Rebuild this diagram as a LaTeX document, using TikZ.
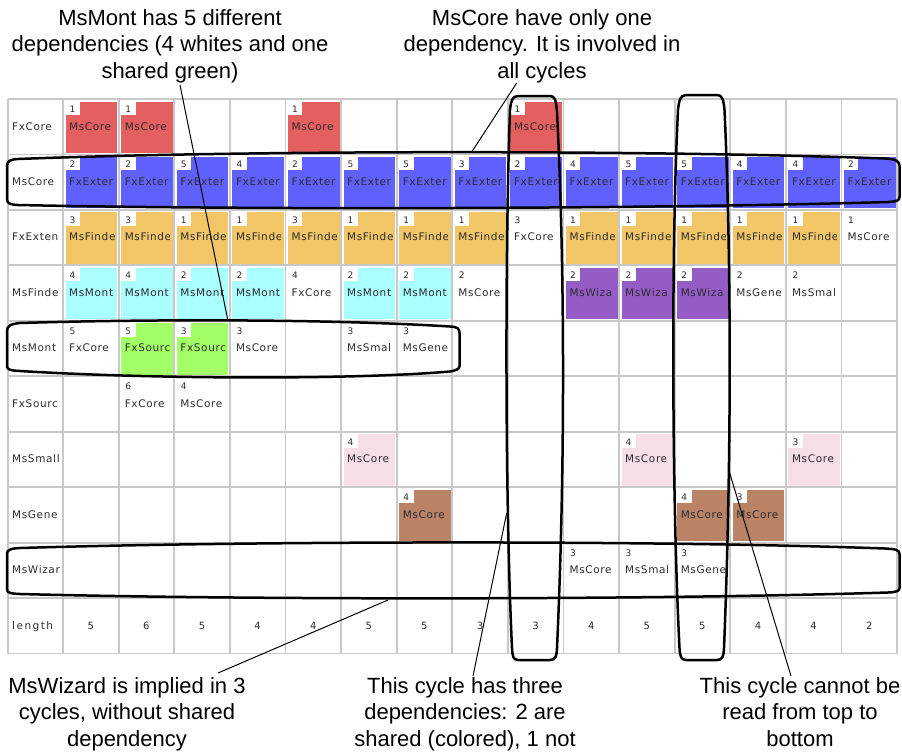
\documentclass[tikz,border=0pt]{standalone}
\usepackage{fontspec}
\newfontfamily\af{Liberation Sans}
\newfontfamily\cf[LetterSpace=6]{DejaVu Sans}
\newfontfamily\lf[LetterSpace=14]{DejaVu Sans}
\definecolor{cred}{RGB}{228,95,95}
\definecolor{cblue}{RGB}{96,96,255}
\definecolor{corange}{RGB}{242,198,102}
\definecolor{ccyan}{RGB}{170,255,255}
\definecolor{cgreen}{RGB}{163,255,102}
\definecolor{cpurple}{RGB}{150,92,198}
\definecolor{cpink}{RGB}{245,222,230}
\definecolor{cbrown}{RGB}{186,131,102}
\definecolor{cgrid}{RGB}{200,200,200}
\definecolor{ctxt}{RGB}{45,45,50}
\tikzset{
 gridline/.style={draw=cgrid, line width=1.8pt},
 celltxt/.style={anchor=base west, inner sep=0pt, text=ctxt, font=\cf\fontsize{10.5}{12}\selectfont},
 numtxt/.style={anchor=base west, inner sep=0pt, text=ctxt, font=\cf\fontsize{9}{10}\selectfont},
 lentxt/.style={anchor=base, inner sep=0pt, text=ctxt, font=\cf\fontsize{10}{12}\selectfont},
 lenlabel/.style={anchor=base west, inner sep=0pt, text=ctxt, font=\lf\fontsize{10.5}{12}\selectfont},
 note/.style={anchor=north, align=center, inner sep=0pt, font=\af\fontsize{22}{26.5}\selectfont},
 loopline/.style={draw=black, line width=2.5pt, line join=round},
 pointer/.style={draw=black, line width=1pt},
}
\newcommand\dcell[5]{%
 \pgfmathsetmacro\cL{63+(#1-1)*55.6}%
 \pgfmathsetmacro\cT{99+(#2-1)*55.45}%
 \ifx\relax#3\relax\else
  \fill[#3] (\cL+2.5,\cT+2.5) rectangle (\cL+54.1,\cT+54);
  \fill[white] (\cL+2.5,\cT+2.5) rectangle (\cL+17,\cT+16);
 \fi
 \node[numtxt] (n#1-#2) at (\cL+6.5,\cT+13.5) {#4};
 \begin{scope}
  \clip (\cL+2,\cT+2) rectangle (\cL+51,\cT+54);
  \node[celltxt] (t#1-#2) at (\cL+6,\cT+31) {#5};
 \end{scope}}
\newcommand\rlabel[2]{%
 \pgfmathsetmacro\cT{99+(#1-1)*55.45}%
 \begin{scope}
  \clip (8,\cT) rectangle (61,\cT+55);
  \node[celltxt] (r#1) at (12,\cT+31) {#2};
 \end{scope}}
\begin{document}
\begin{tikzpicture}[x=1pt,y=-1pt]
\useasboundingbox (0,0) rectangle (902,753);
\fill[white] (0,0) rectangle (902,753);
% row labels
\rlabel{1}{FxCore}
\rlabel{2}{MsCore}
\rlabel{3}{FxExten}
\rlabel{4}{MsFinde}
\rlabel{5}{MsMont}
\rlabel{6}{FxSourc}
\rlabel{7}{MsSmall}
\rlabel{8}{MsGene}
\rlabel{9}{MsWizar}
\node[lenlabel] (r10) at (12,629.05) {length};
% row FxCore
\foreach \c in {1,2,5,9} {\dcell{\c}{1}{cred}{1}{MsCore}}
% row MsCore
\foreach \c/\n in {1/2,2/2,3/5,4/4,5/2,6/5,7/5,8/3,9/2,10/4,11/5,12/5,13/4,14/4,15/2} {\dcell{\c}{2}{cblue}{\n}{FxExter}}
% row FxExten
\foreach \c/\n in {1/3,2/3,3/1,4/1,5/3,6/1,7/1,8/1,10/1,11/1,12/1,13/1,14/1} {\dcell{\c}{3}{corange}{\n}{MsFinde}}
\dcell{9}{3}{}{3}{FxCore}
\dcell{15}{3}{}{1}{MsCore}
% row MsFinde
\foreach \c/\n in {1/4,2/4,3/2,4/2,6/2,7/2} {\dcell{\c}{4}{ccyan}{\n}{MsMont}}
\dcell{5}{4}{}{4}{FxCore}
\dcell{8}{4}{}{2}{MsCore}
\foreach \c in {10,11,12} {\dcell{\c}{4}{cpurple}{2}{MsWiza}}
\dcell{13}{4}{}{2}{MsGene}
\dcell{14}{4}{}{2}{MsSmal}
% row MsMont
\dcell{1}{5}{}{5}{FxCore}
\dcell{2}{5}{cgreen}{5}{FxSourc}
\dcell{3}{5}{cgreen}{3}{FxSourc}
\dcell{4}{5}{}{3}{MsCore}
\dcell{6}{5}{}{3}{MsSmal}
\dcell{7}{5}{}{3}{MsGene}
% row FxSourc
\dcell{2}{6}{}{6}{FxCore}
\dcell{3}{6}{}{4}{MsCore}
% row MsSmall
\dcell{6}{7}{cpink}{4}{MsCore}
\dcell{11}{7}{cpink}{4}{MsCore}
\dcell{14}{7}{cpink}{3}{MsCore}
% row MsGene
\dcell{7}{8}{cbrown}{4}{MsCore}
\dcell{12}{8}{cbrown}{4}{MsCore}
\dcell{13}{8}{cbrown}{3}{MsCore}
% row MsWizar
\dcell{10}{9}{}{3}{MsCore}
\dcell{11}{9}{}{3}{MsSmal}
\dcell{12}{9}{}{3}{MsGene}
% length row
\foreach \i/\n in {1/5,2/6,3/5,4/4,5/4,6/5,7/5,8/3,9/3,10/4,11/5,12/5,13/4,14/4,15/2}
  {\node[lentxt] (len\i) at ({63+(\i-0.5)*55.6},629.05) {\n};}
% grid
\draw[gridline] (8,99) -- (8,653.5);
\foreach \i in {0,...,15} {\draw[gridline] ({63+\i*55.6},99) -- ({63+\i*55.6},653.5);}
\foreach \j in {0,...,10} {\draw[gridline] (8,{99+\j*55.45}) -- (897,{99+\j*55.45});}
% loops
\draw[loopline] (7,182) -- (7,166) .. controls (7,161) and (10,159.5) .. (18,159)
  .. controls (250,150) and (650,150) .. (885,158.5)
  .. controls (896,159) and (899.5,161) .. (899.5,166) -- (899.5,197)
  .. controls (899.5,200.5) and (897,201.5) .. (888,202)
  .. controls (650,209) and (250,210) .. (18,205)
  .. controls (10,204.5) and (7,203.5) .. (7,199) -- cycle;
\draw[loopline] (7,350) -- (7,331) .. controls (7,326) and (10,324) .. (20,323)
  .. controls (150,319) and (330,319) .. (450,326.5)
  .. controls (457,327) and (459.5,328) .. (459.5,333) -- (459.5,366)
  .. controls (459.5,369) and (457,370) .. (450,371.5)
  .. controls (350,380) and (150,379) .. (20,371)
  .. controls (10,370.5) and (7,369.5) .. (7,366) -- cycle;
\draw[loopline] (7,570) -- (7,554) .. controls (7,550) and (10,548.5) .. (20,548)
  .. controls (250,541) and (650,540) .. (885,548.5)
  .. controls (896,549) and (899.5,550) .. (899.5,554) -- (899.5,588)
  .. controls (899.5,591) and (897,592) .. (888,592.5)
  .. controls (650,600) and (250,600) .. (20,594)
  .. controls (10,593.5) and (7,593) .. (7,589) -- cycle;
\draw[loopline] (510,110) .. controls (511,102) and (511.5,96) .. (518,96) -- (550,96)
  .. controls (555,96) and (556,100) .. (557,112)
  .. controls (564,250) and (566,450) .. (557,648)
  .. controls (556.5,656) and (556,660) .. (550,660) -- (518,660)
  .. controls (513,660) and (512.5,656) .. (512,648)
  .. controls (505,500) and (505,250) .. (510,110) -- cycle;
\draw[loopline] (678,110) .. controls (679,101) and (680,95) .. (686,95) -- (717,95)
  .. controls (722,95) and (723.5,99) .. (724.5,110)
  .. controls (731,250) and (732,450) .. (724,648)
  .. controls (723.5,656) and (723,660) .. (717,660) -- (686,660)
  .. controls (681,660) and (680,656) .. (679.5,648)
  .. controls (672,500) and (671,250) .. (678,110) -- cycle;
% notes
\node[note] (note1) at (170,9.2) {MsMont has 5 different\\dependencies (4 whites and one\\shared green)};
\node[note] (note2) at (542,9.2) {MsCore have only one\\dependency. It is involved in\\all cycles};
\node[note] (note3) at (127,677) {MsWizard is implied in 3\\cycles, without shared\\dependency};
\node[note] (note4) at (465,677) {This cycle has three\\dependencies: 2 are\\shared (colored), 1 not};
\node[note] (note5) at (800,677) {This cycle cannot be\\read from top to\\bottom};
% pointers
\coordinate (p1a) at (180,85);   \coordinate (p1b) at (228,321);
\coordinate (p2a) at (516.7,83); \coordinate (p2b) at (471.7,152);
\coordinate (p3a) at (388,600);  \coordinate (p3b) at (218,673);
\coordinate (p4a) at (506.7,513);\coordinate (p4b) at (473,676);
\coordinate (p5a) at (729.3,471.7); \coordinate (p5b) at (791,676);
\draw[pointer] (p1a) -- (p1b);
\draw[pointer] (p2a) -- (p2b);
\draw[pointer] (p3a) -- (p3b);
\draw[pointer] (p4a) -- (p4b);
\draw[pointer] (p5a) -- (p5b);
\end{tikzpicture}
\end{document}
